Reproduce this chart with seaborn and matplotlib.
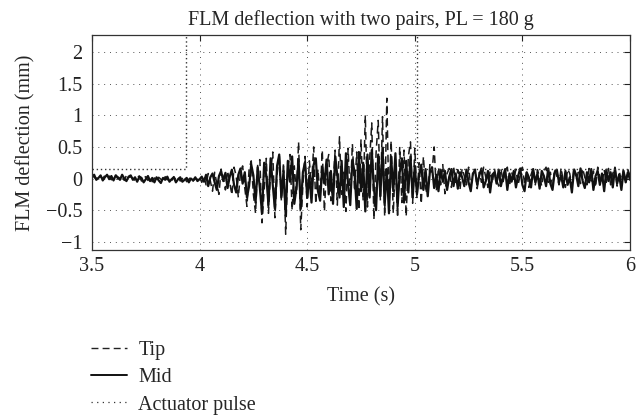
import numpy as np
import pandas as pd
import matplotlib
matplotlib.use("Agg")
import matplotlib.pyplot as plt
import seaborn as sns
from matplotlib.lines import Line2D

t_start, t_end = 3.5, 6.0

mid_mm = [
    0.03, 0.06, -0.02, 0.01, 0.05, -0.03, 0.02, 0.06, -0.01, 0.04,
    -0.03, 0.05, 0.02, -0.02, 0.06, 0.00, -0.04, 0.03, 0.05, -0.02,
    0.02, -0.05, 0.03, 0.01, -0.06, -0.01, 0.04, -0.04, 0.01, -0.06,
    0.02, -0.03, -0.07, 0.01, -0.02, 0.03, -0.05, -0.01, 0.02, -0.06,
    -0.01, 0.02, -0.05, -0.02, 0.01, -0.06, 0.00, -0.03, 0.02, -0.04,
    -0.01, 0.03, -0.05, 0.06, -0.12, 0.02, 0.08, -0.06, -0.18, 0.04,
    0.12, -0.04, 0.09, -0.15, 0.03, 0.14, -0.10, -0.22, 0.06, 0.16,
    -0.08, 0.10, -0.30, -0.12, 0.22, 0.05, -0.38, 0.18, -0.15, -0.55,
    0.25, 0.05, -0.42, 0.32, -0.10, -0.48, 0.20, 0.38, -0.30, 0.12,
    -0.58, 0.28, -0.05, 0.35, -0.40, -0.15, 0.30, -0.48, 0.10, 0.26,
    -0.30, 0.05, -0.38, 0.22, 0.32, -0.20, -0.35, 0.18, -0.08, 0.30,
    -0.25, 0.12, -0.40, 0.35, 0.05, -0.30, 0.28, -0.45, 0.40, -0.10,
    -0.42, 0.30, 0.10, -0.48, 0.42, -0.20, 0.25, -0.52, 0.38, -0.30,
    0.45, -0.15, -0.50, 0.38, -0.28, 0.48, -0.42, 0.15, -0.55, 0.35,
    -0.20, 0.40, -0.45, 0.10, 0.32, -0.38, 0.28, -0.22, 0.35, -0.30,
    0.20, -0.25, 0.05, 0.22, -0.18, 0.15, -0.28, 0.10, 0.18, -0.15,
    0.06, -0.20, 0.14, -0.05, 0.12, -0.18, 0.03, 0.15, -0.12, 0.08,
    -0.16, 0.10, 0.02, -0.12, 0.14, -0.06, -0.20, 0.08, 0.13, -0.10,
    0.05, 0.16, -0.14, -0.04, 0.12, -0.22, 0.06, 0.10, -0.08, 0.14,
    -0.12, 0.03, 0.15, -0.18, 0.08, -0.05, 0.12, -0.14, 0.04, 0.16,
    -0.10, -0.20, 0.10, 0.02, -0.14, 0.15, -0.06, 0.08, -0.16, 0.12,
    0.04, -0.12, 0.16, -0.08, -0.18, 0.10, 0.14, -0.06, 0.05, -0.14,
    0.12, -0.10, 0.02, -0.22, 0.14, 0.06, -0.12, 0.16, -0.04, -0.15,
    0.10, -0.06, 0.15, -0.18, 0.04, 0.12, -0.10, 0.08, -0.20, 0.14,
    -0.04, 0.10, -0.14, 0.16, -0.08, 0.05, -0.18, 0.12, -0.06, 0.10,
    -0.02,
]

tip_mm = [
    0.05, 0.02, -0.01, 0.06, 0.03, 0.00, 0.05, 0.02, 0.04, -0.02,
    0.03, 0.06, -0.01, 0.04, 0.02, -0.03, 0.05, 0.01, 0.03, 0.00,
    -0.03, 0.02, 0.04, -0.04, 0.01, 0.03, -0.03, 0.02, -0.05, 0.01,
    -0.04, 0.02, -0.01, -0.05, 0.03, -0.02, 0.00, -0.04, 0.03, -0.02,
    0.02, -0.04, 0.00, 0.02, -0.05, -0.01, 0.02, -0.04, 0.00, -0.02,
    0.03, -0.06, 0.04, -0.10, 0.08, -0.04, -0.20, 0.10, -0.08, -0.25,
    0.15, 0.02, -0.18, 0.12, -0.06, -0.26, 0.18, 0.04, -0.30, 0.10,
    0.20, -0.15, -0.44, 0.15, 0.28, -0.25, -0.55, 0.22, 0.30, -0.70,
    -0.20, 0.32, -0.55, 0.10, 0.42, -0.62, 0.05, 0.40, -0.35, 0.25,
    -0.88, 0.15, 0.38, -0.50, 0.20, -0.25, 0.58, -0.81, -0.10, 0.35,
    -0.45, 0.28, -0.10, 0.50, -0.40, 0.15, -0.30, 0.45, -0.52, 0.20,
    0.38, -0.35, -0.10, 0.45, -0.42, 0.66, -0.25, 0.10, -0.52, 0.48,
    -0.30, 0.55, -0.20, 0.42, -0.50, 0.62, -0.35, 1.00, -0.45, 0.30,
    0.88, -0.65, 0.40, 0.92, -0.35, 0.98, -0.60, 1.27, -0.45, 0.60,
    -0.55, 0.30, -0.62, 0.50, -0.38, 0.45, -0.60, 0.35, 0.58, -0.39,
    0.48, -0.30, 0.25, -0.40, 0.35, -0.15, -0.28, 0.22, 0.10, 0.50,
    -0.20, 0.18, -0.10, 0.22, -0.24, 0.08, 0.16, -0.14, 0.20, -0.06,
    0.14, -0.18, 0.16, 0.04, -0.10, 0.18, -0.12, 0.06, 0.15, -0.16,
    0.10, -0.06, 0.18, 0.02, -0.14, 0.12, -0.08, 0.16, -0.02, -0.12,
    0.16, -0.05, 0.08, 0.18, -0.12, 0.10, -0.02, 0.15, -0.10, 0.06,
    0.18, -0.08, 0.12, -0.14, 0.06, 0.16, -0.10, 0.14, 0.02, -0.12,
    0.12, 0.18, -0.06, 0.10, -0.12, 0.15, 0.04, -0.10, 0.17, -0.05,
    -0.14, 0.15, 0.08, -0.12, 0.18, -0.02, 0.10, -0.08, 0.16, 0.02,
    -0.10, 0.16, -0.04, 0.12, -0.14, 0.18, 0.02, -0.08, 0.14, -0.06,
    0.16, -0.10, 0.08, 0.18, -0.12, 0.12, -0.04, 0.15, -0.08, 0.14,
    0.05,
]

pulse_t = [3.5, 3.937, 3.937, 5.012, 5.012, 6.0]
pulse_mm = [0.15, 0.15, 3.0, 3.0, 0.15, 0.15]

x_ticks = [3.5, 4, 4.5, 5, 5.5, 6]
x_labels = ["3.5", "4", "4.5", "5", "5.5", "6"]
y_ticks = [-1, -0.5, 0, 0.5, 1, 1.5, 2]
y_labels = ["\u22121", "\u22120.5", "0", "0.5", "1", "1.5", "2"]

# ---------------- plot ----------------
sns.set_style("white")
plt.rcParams["font.family"] = ["Liberation Serif", "DejaVu Serif"]
FS = 14.5
DASH = (0, (5, 3))
DOT = (0, (1, 3.5))

time_s = np.linspace(t_start, t_end, len(mid_mm))
df = pd.DataFrame({"t": time_s, "tip": tip_mm, "mid": mid_mm})
dfp = pd.DataFrame({"t": pulse_t, "p": pulse_mm})

fig = plt.figure(figsize=(6.42, 4.15), dpi=100)
ax = fig.add_axes([0.1433, 0.3976, 0.838, 0.518])

sns.lineplot(data=df, x="t", y="tip", ax=ax, color="#1a1a1a", lw=1.1,
             linestyle=DASH, sort=False, estimator=None)
sns.lineplot(data=df, x="t", y="mid", ax=ax, color="#111111", lw=1.6,
             sort=False, estimator=None)
sns.lineplot(data=dfp, x="t", y="p", ax=ax, color="#333333", lw=1.0,
             linestyle=(0, (1, 2)), sort=False, estimator=None)

ax.set_xlim(3.5, 6.0)
ax.set_ylim(-1.13, 2.27)
ax.set_xticks(x_ticks)
ax.set_xticklabels(x_labels)
ax.set_yticks(y_ticks)
ax.set_yticklabels(y_labels)
ax.tick_params(direction="in", length=4, width=0.8, labelsize=FS,
               top=True, right=True, colors="#222222")
ax.tick_params(axis="y", pad=7)
ax.tick_params(axis="x", pad=5)
ax.grid(True, linestyle=(0, (1, 5)), color="#555555", lw=0.7)
for s in ax.spines.values():
    s.set_visible(True)
    s.set_color("#333333")
    s.set_linewidth(0.9)

ax.set_xlabel("Time (s)", fontsize=FS)
ax.set_ylabel("FLM deflection (mm)", fontsize=FS)
ax.xaxis.set_label_coords(0.5, -0.175)
ax.yaxis.set_label_coords(-0.105, 0.5)
ax.set_title("FLM deflection with two pairs, PL = 180 g", fontsize=FS, pad=7)

handles = [
    Line2D([], [], color="#222222", lw=1.0, linestyle=DASH),
    Line2D([], [], color="#111111", lw=1.4),
    Line2D([], [], color="#333333", lw=0.9, linestyle=DOT),
]
fig.legend(handles, ["Tip", "Mid", "Actuator pulse"], loc="upper left",
           bbox_to_anchor=(0.142, 0.178), frameon=False, fontsize=FS,
           handlelength=1.8, handletextpad=0.55, labelspacing=0.4,
           borderaxespad=0, borderpad=0)

fig.savefig("out.png", dpi=100)
